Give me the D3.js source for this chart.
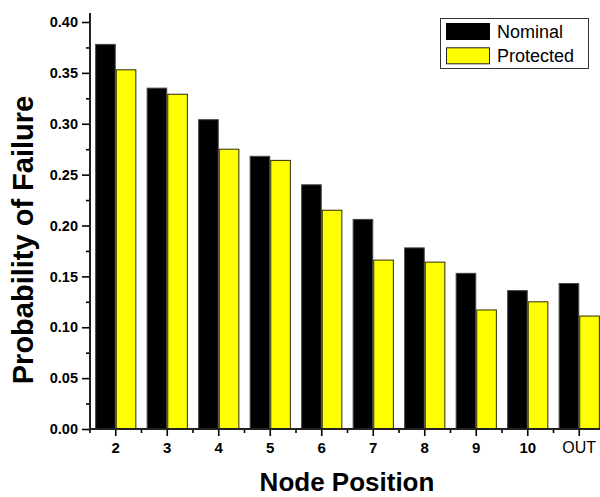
<!DOCTYPE html>
<html>
<head>
<meta charset="utf-8">
<script src="https://cdn.jsdelivr.net/npm/d3@7"></script>
<style>
  html, body { margin: 0; padding: 0; background: #fff; }
  svg { display: block; font-family: "Liberation Sans", Arial, sans-serif; }
</style>
</head>
<body>
<svg id="chart" width="600" height="497"></svg>
<script>
// Node positions along the chain
const categories = ["2", "3", "4", "5", "6", "7", "8", "9", "10", "OUT"];
const seriesNames = ["Nominal", "Protected"];
// Probability of failure per node
const nominal   = [0.378, 0.335, 0.304, 0.268, 0.240, 0.206, 0.178, 0.153, 0.136, 0.143];
const protectedVals = [0.353, 0.329, 0.275, 0.264, 0.215, 0.166, 0.164, 0.117, 0.125, 0.111];
const yTicks = [0, 0.05, 0.10, 0.15, 0.20, 0.25, 0.30, 0.35, 0.40];
const yMinorTicks = [0.025, 0.075, 0.125, 0.175, 0.225, 0.275, 0.325, 0.375];

const fills = ["#000000", "#ffff00"];
const strokes = ["#444444", "#2a2a00"];

const svg = d3.select("#chart");
const plotLeft = 90, plotBottom = 429, plotTop = 22, axisTop = 13, plotRight = 605;

const x = d3.scaleBand().domain(categories).range([plotLeft, plotRight])
  .paddingInner(0.2).paddingOuter(0.1);
const xs = d3.scaleBand().domain(seriesNames).range([0, x.bandwidth()]);
const y = d3.scaleLinear().domain([0, 0.4]).range([plotBottom, plotTop]);

const rows = categories.map((c, i) => ({ c, vals: [nominal[i], protectedVals[i]] }));

// Bars
const g = svg.append("g");
rows.forEach(r => {
  r.vals.forEach((v, k) => {
    g.append("rect")
      .attr("x", x(r.c) + xs(seriesNames[k]) + 0.5)
      .attr("y", y(v))
      .attr("width", xs.bandwidth() - 1)
      .attr("height", y(0) - y(v))
      .attr("fill", fills[k])
      .attr("stroke", strokes[k])
      .attr("stroke-width", 1);
  });
});

// Y axis
const yAxis = svg.append("g").attr("transform", `translate(${plotLeft},0)`)
  .call(d3.axisLeft(y).tickValues(yTicks).tickFormat(d3.format(".2f")).tickSize(8).tickPadding(4));
yAxis.select(".domain").remove();
yAxis.selectAll(".tick line").attr("stroke", "#000").attr("stroke-width", 1.6);
yAxis.selectAll(".tick text")
  .attr("font-family", "Liberation Sans, Arial, sans-serif")
  .attr("font-size", 14.5).attr("font-weight", "bold").attr("fill", "#000");

const yMinor = svg.append("g").attr("transform", `translate(${plotLeft},0)`)
  .call(d3.axisLeft(y).tickValues(yMinorTicks).tickFormat("").tickSize(4));
yMinor.select(".domain").remove();
yMinor.selectAll(".tick line").attr("stroke", "#000").attr("stroke-width", 1.6);

// X axis
const xAxis = svg.append("g").attr("transform", `translate(0,${plotBottom})`)
  .call(d3.axisBottom(x).tickSize(7).tickPadding(6));
xAxis.select(".domain").remove();
xAxis.selectAll(".tick line").attr("stroke", "#000").attr("stroke-width", 1.6);
xAxis.selectAll(".tick text")
  .attr("font-family", "Liberation Sans, Arial, sans-serif")
  .attr("font-size", d => d === "OUT" ? 16 : 15)
  .attr("font-weight", d => d === "OUT" ? "normal" : "bold")
  .attr("fill", "#000");

// Minor ticks between categories
const half = x.step() / 2;
const minorX = categories.map(c => x(c) + x.bandwidth() / 2 - half)
  .concat([x(categories[categories.length - 1]) + x.bandwidth() / 2 + half]);
svg.append("g").selectAll("line").data(minorX).join("line")
  .attr("x1", d => d).attr("x2", d => d)
  .attr("y1", plotBottom).attr("y2", plotBottom + 4)
  .attr("stroke", "#000").attr("stroke-width", 1.6);

// Axis lines
svg.append("line").attr("x1", plotLeft).attr("x2", plotLeft)
  .attr("y1", axisTop).attr("y2", plotBottom + 1)
  .attr("stroke", "#222").attr("stroke-width", 2);
svg.append("line").attr("x1", plotLeft - 1).attr("x2", 600)
  .attr("y1", plotBottom).attr("y2", plotBottom)
  .attr("stroke", "#222").attr("stroke-width", 2);

// Axis titles
svg.append("text")
  .attr("x", 347).attr("y", 491)
  .attr("text-anchor", "middle")
  .attr("font-size", 26).attr("font-weight", "bold").attr("fill", "#000")
  .text("Node Position");
svg.append("text")
  .attr("transform", "translate(33,240) rotate(-90)")
  .attr("text-anchor", "middle")
  .attr("font-size", 29).attr("font-weight", "bold").attr("fill", "#000")
  .text("Probability of Failure");

// Legend
const lg = svg.append("g");
lg.append("rect").attr("x", 440.5).attr("y", 18.5).attr("width", 148).attr("height", 50)
  .attr("fill", "#fff").attr("stroke", "#333").attr("stroke-width", 1);
seriesNames.forEach((name, k) => {
  const yy = 23 + k * 24.3;
  lg.append("rect").attr("x", 446.5).attr("y", yy + 0.5).attr("width", 43).attr("height", 16)
    .attr("fill", fills[k]).attr("stroke", k ? "#222" : "#000").attr("stroke-width", 1);
  lg.append("text").attr("x", 497).attr("y", yy + 14.5)
    .attr("font-size", 18).attr("fill", "#000").text(name);
});
</script>
</body>
</html>
